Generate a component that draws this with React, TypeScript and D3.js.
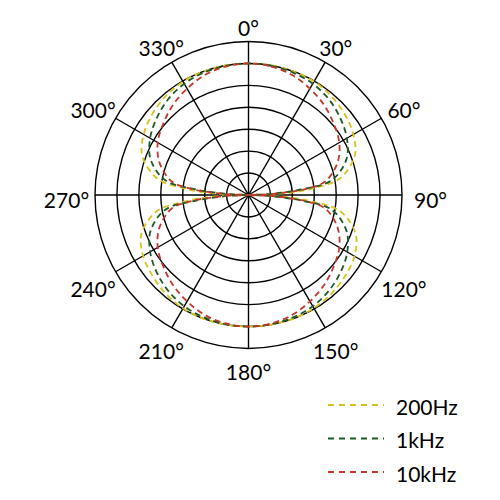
import * as d3 from "d3";

// polar response, radius in grid-ring units (7 rings, 0 at the centre)
const angles = [
  0, 10, 20, 30, 40, 50, 60, 70, 80, 84, 86, 88, 90,
  92, 94, 96, 100, 110, 120, 130, 140, 150, 160, 170, 180,
  190, 200, 210, 220, 230, 240, 250, 260, 264, 266, 268, 270,
  272, 274, 276, 280, 290, 300, 310, 320, 330, 340, 350,
];
const hz200 = [
  6.0, 6.0, 5.99, 5.98, 5.88, 5.73, 5.52, 5.15, 4.2, 3.0, 2.25, 1.1, 0,
  1.1, 2.2, 2.95, 4.25, 5.2, 5.58, 5.75, 5.88, 5.96, 6.0, 6.0, 6.0,
  6.0, 6.0, 5.97, 5.87, 5.72, 5.55, 5.2, 4.25, 3.0, 2.2, 1.1, 0,
  1.1, 2.25, 3.0, 4.2, 5.15, 5.52, 5.73, 5.88, 5.97, 6.0, 6.0,
];
const khz1 = [
  6.0, 5.98, 5.94, 5.86, 5.7, 5.46, 5.18, 4.75, 3.85, 2.4, 1.5, 0.7, 0,
  0.7, 1.5, 2.4, 3.85, 4.75, 5.2, 5.48, 5.7, 5.86, 5.94, 5.98, 6.0,
  5.98, 5.94, 5.86, 5.7, 5.47, 5.18, 4.75, 3.85, 2.4, 1.5, 0.7, 0,
  0.7, 1.5, 2.4, 3.85, 4.75, 5.18, 5.46, 5.7, 5.86, 5.94, 5.98,
];
const khz10 = [
  6.0, 5.95, 5.82, 5.6, 5.36, 5.07, 4.78, 4.32, 3.55, 2.6, 1.7, 0.9, 0,
  0.9, 1.7, 2.6, 3.55, 4.32, 4.78, 5.07, 5.36, 5.6, 5.82, 5.95, 6.0,
  5.95, 5.82, 5.6, 5.36, 5.07, 4.78, 4.32, 3.55, 2.6, 1.7, 0.9, 0,
  0.9, 1.7, 2.6, 3.55, 4.32, 4.78, 5.07, 5.36, 5.6, 5.82, 5.95,
];
const seriesNames = ["200Hz", "1kHz", "10kHz"];
const seriesColors = ["#d8c21e", "#1e5a26", "#c4372a"];
const tickAngles = [0, 30, 60, 90, 120, 150, 180, 210, 240, 270, 300, 330];
const ringLevels = [1, 2, 3, 4, 5, 6, 7];

const cx = 248.5;
const cy = 195;
const R = 153.5;
const font = "Lato, 'DejaVu Sans', sans-serif";

const r = d3.scaleLinear().domain([0, 7]).range([0, R]);
const toRad = (deg: number) => (deg * Math.PI) / 180;

const line = d3
  .lineRadial<number>()
  .angle((_, i) => toRad(angles[i]))
  .radius((d) => r(d))
  .curve(d3.curveCatmullRomClosed.alpha(0.5));

export default function App() {
  const series = [hz200, khz1, khz10];
  return (
    <svg
      width={500}
      height={500}
      style={{ position: "absolute", left: 0, top: 0, background: "#fff" }}
    >
      <g transform={`translate(${cx},${cy})`}>
        {ringLevels.map((l) => (
          <circle key={l} r={r(l)} fill="none" stroke="#000" strokeWidth={1.4} />
        ))}
        {tickAngles.map((a) => (
          <line
            key={a}
            x1={0}
            y1={0}
            x2={r(7) * Math.sin(toRad(a))}
            y2={-r(7) * Math.cos(toRad(a))}
            stroke="#000"
            strokeWidth={1.4}
          />
        ))}
        {series.map((s, i) => (
          <path
            key={seriesNames[i]}
            d={line(s) || undefined}
            fill="none"
            stroke={seriesColors[i]}
            strokeWidth={1.8}
            strokeDasharray="6,4"
          />
        ))}
      </g>
      {tickAngles.map((a) => {
        const s = Math.sin(toRad(a));
        const lr = 172 + 10 * s * s;
        return (
          <text
            key={a}
            x={cx + lr * s}
            y={cy + 4 - lr * Math.cos(toRad(a))}
            textAnchor="middle"
            dominantBaseline="central"
            fontFamily={font}
            fontSize={21}
            fill="#000"
          >
            {a}°
          </text>
        );
      })}
      {seriesNames.map((n, i) => {
        const y = 405 + i * 33.5;
        return (
          <g key={n}>
            <line
              x1={328}
              x2={384}
              y1={y}
              y2={y}
              stroke={seriesColors[i]}
              strokeWidth={1.8}
              strokeDasharray="6,5"
            />
            <text
              x={396}
              y={y + 1}
              dominantBaseline="central"
              fontFamily={font}
              fontSize={21}
              fill="#000"
            >
              {n}
            </text>
          </g>
        );
      })}
    </svg>
  );
}
